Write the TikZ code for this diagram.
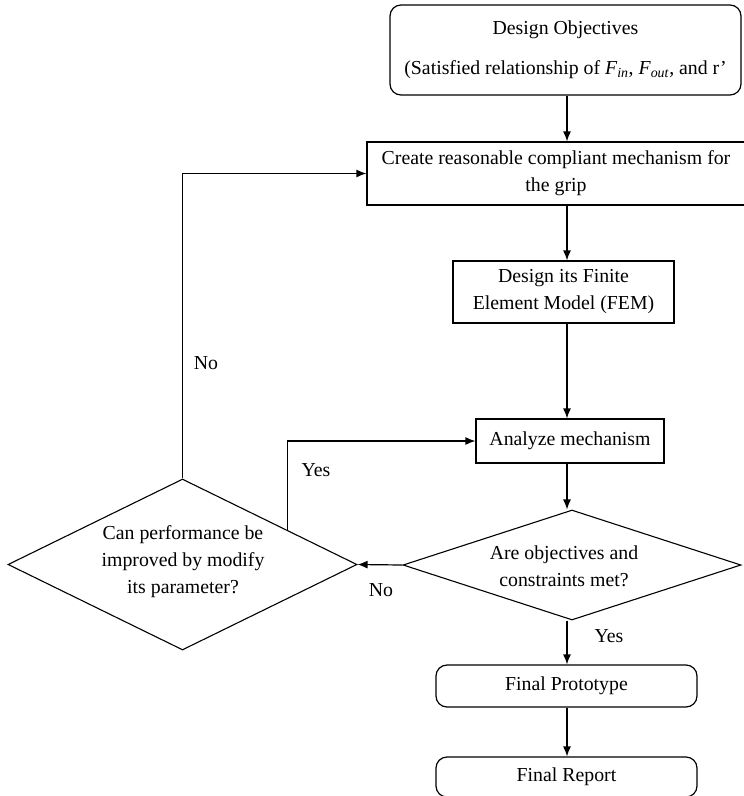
\documentclass[tikz,border=0pt]{standalone}
\usepackage{fontspec}
\setmainfont{Liberation Serif}
\usetikzlibrary{shapes.geometric,arrows.meta,calc}
\begin{document}
\begin{tikzpicture}[x=1pt,y=-1pt,
  txt/.style={font=\fontsize{19.8}{27}\selectfont,align=center,inner sep=0pt},
  box/.style={txt,draw,line width=1.2pt},
  rbox/.style={box,rounded corners=11pt},
  dia/.style={draw,diamond,line width=1.1pt,inner sep=0pt},
  arr/.style={line width=1.2pt,-{Latex[length=10pt,width=8pt]}},
  conn/.style={line width=1.2pt}]
\useasboundingbox (0,0) rectangle (744,796);
\coordinate (cx) at (567,0);
% boxes
\node[rbox,minimum width=351pt,minimum height=90pt] (obj) at (565.5,50)
  {Design Objectives\\[13pt](Satisfied relationship of \textit{F}\textsubscript{\textit{in}}, \textit{F}\textsubscript{\textit{out}}, and r’};
\node[box,minimum width=378pt,minimum height=63pt] (create) at (556,173.5)
  {Create reasonable compliant mechanism for\\the grip};
\node[box,minimum width=221pt,minimum height=62pt] (fem) at (563.5,292)
  {Design its Finite\\Element Model (FEM)};
\node[box,minimum width=188pt,minimum height=44pt] (ana) at (570,441)
  {Analyze mechanism};
\node[dia,minimum width=338pt,minimum height=110pt] (met) at (572,565) {};
\node[txt] (mettxt) at (564,566) {Are objectives and\\constraints met?};
\node[dia,minimum width=349pt,minimum height=171pt] (imp) at (182.5,564.5) {};
\node[txt] (imptxt) at (183,562) {Can performance be\\improved by modify\\its parameter?};
\node[rbox,minimum width=261pt,minimum height=42pt] (proto) at (566.5,686)
  {Final Prototype};
\node[rbox,minimum width=261pt,minimum height=40pt] (rep) at (566.5,777)
  {Final Report};
% labels
\node[txt] (no1) at (206,363) {No};
\node[txt] (yes1) at (316,470) {Yes};
\node[txt] (no2) at (381,590) {No};
\node[txt] (yes2) at (609,636) {Yes};
% connectors
\draw[arr] (obj.south -| cx) -- (create.north -| cx);
\draw[arr] (create.south -| cx) -- (fem.north -| cx);
\draw[arr] (fem.south -| cx) -- (ana.north -| cx);
\draw[arr] (ana.south -| cx) -- (met.north -| cx);
\draw[arr] (met.south -| cx) -- (proto.north -| cx);
\draw[arr] (proto.south -| cx) -- (rep.north -| cx);
\draw[arr] (met.west) -- (imp.east);
\coordinate (ys) at ($(imp.north)!0.6!(imp.east)$);
\draw[arr] (ys) |- (ana.west);
\draw[arr] (imp.north) |- (create.west);
\end{tikzpicture}
\end{document}
